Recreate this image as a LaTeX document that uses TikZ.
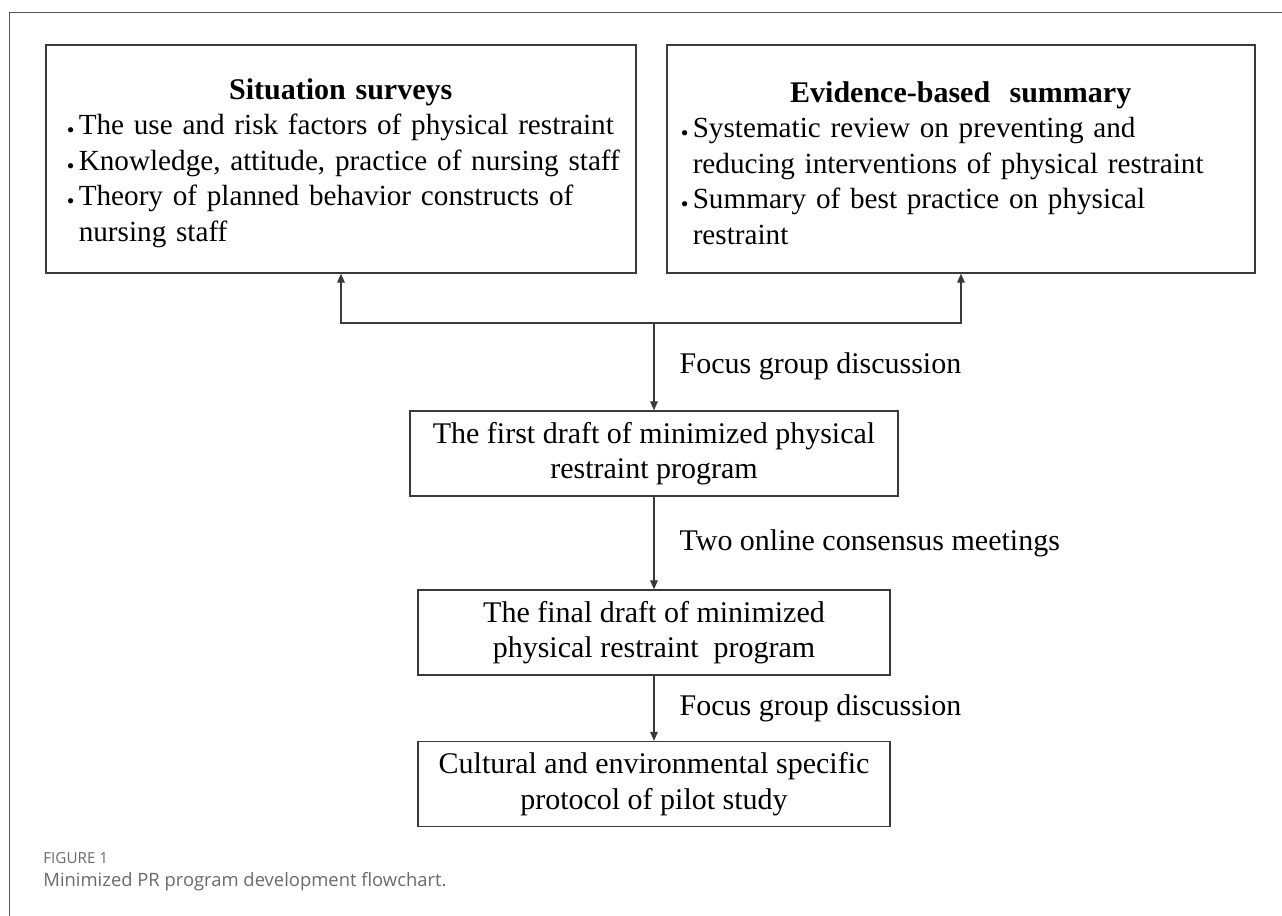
\documentclass[tikz,border=0pt]{standalone}
\usepackage{fontspec}
\setmainfont{Liberation Serif}
\newfontfamily\capfont{Open Sans}
\usetikzlibrary{arrows.meta,positioning}
\definecolor{frgray}{HTML}{555555}
\definecolor{capgray}{HTML}{6A6A6A}
\definecolor{boxline}{HTML}{3A3A3A}
\newcommand{\itemdot}{\makebox[6pt][l]{\raisebox{-1.5pt}{\scalebox{0.75}{\textbullet}}}}

\begin{document}
\begin{tikzpicture}[x=0.5pt, y=-0.5pt,
  every node/.style={font=\fontsize{15}{17.75}\selectfont},
  srcbox/.style={draw=boxline, line width=0.65pt, minimum width=#1, minimum height=114pt, inner sep=0pt},
  srctext/.style={anchor=west, text width=290pt, align=left, inner sep=0pt,
    font=\fontsize{14.6}{17.75}\selectfont},
  stepbox/.style={draw=boxline, line width=0.65pt, minimum width=#1, minimum height=42.5pt, align=center, inner sep=0pt},
  flow/.style={boxline, line width=0.6pt, -{Triangle[length=4.5pt, width=3.8pt]}},
  branch/.style={boxline, line width=0.6pt, {Triangle[length=4.5pt, width=3.8pt]}-{Triangle[length=4.5pt, width=3.8pt]}},
  lab/.style={anchor=west, xshift=12.5pt, inner sep=0pt, text=black}]

  \useasboundingbox (0,0) rectangle (1282,916);

  % ---- Figure frame ----
  \draw[frgray, line width=0.5pt] (9,916) -- (9,12) -- (1282,12);

  % ---- Top boxes ----
  \node[srcbox=295pt] (surveys) at (341,159) {};
  \node[srctext] (surveystext) at ([xshift=10.5pt, yshift=-2pt]surveys.west)
    {\makebox[274pt]{\fontsize{15}{17.75}\selectfont\bfseries Situation surveys}\\
     \itemdot The use and risk factors of physical restraint\\
     \itemdot Knowledge, attitude, practice of nursing staff\\
     \itemdot Theory of planned behavior constructs of\\
     \hspace*{6pt}nursing staff};

  \node[srcbox=294pt] (evidence) at (961,159) {};
  \node[srctext] (evidencetext) at ([xshift=7pt, yshift=-2pt]evidence.west)
    {\makebox[280pt]{\fontsize{15}{17.75}\selectfont\bfseries Evidence-based\ \ summary}\\
     \itemdot Systematic review on preventing and\\
     \hspace*{6pt}reducing interventions of physical restraint\\
     \itemdot Summary of best practice on physical\\
     \hspace*{6pt}restraint};

  % ---- Program drafts ----
  \node[stepbox=244pt] (first) at (654,453.5)
    {The first draft of minimized physical\\restraint program};
  \node[stepbox=236pt] (final) at (654,632.5)
    {The final draft of minimized\\physical restraint\ \ program};
  \node[stepbox=236pt] (pilot) at (654,784)
    {Cultural and environmental specific\\protocol of pilot study};

  % ---- Connectors ----
  \coordinate (fork) at (654,323);
  \draw[branch] (surveys.south) |- (fork) -| (evidence.south);
  \draw[flow] (fork) -- node[lab] (talk1) {Focus group discussion} (first.north);
  \draw[flow] (first.south) -- node[lab] (talk2) {Two online consensus meetings} (final.north);
  \draw[flow] (final.south) -- node[lab] (talk3) {Focus group discussion} (pilot.north);

  % ---- Caption ----
  \node[anchor=west, inner sep=0pt, text=capgray, font=\capfont\fontsize{7.6}{9}\selectfont]
    (figno) at (43,858) {FIGURE 1};
  \node[anchor=west, inner sep=0pt, text=capgray, font=\capfont\fontsize{9.2}{11}\selectfont]
    (figcap) at (43,882) {Minimized PR program development flowchart.};

\end{tikzpicture}
\end{document}
